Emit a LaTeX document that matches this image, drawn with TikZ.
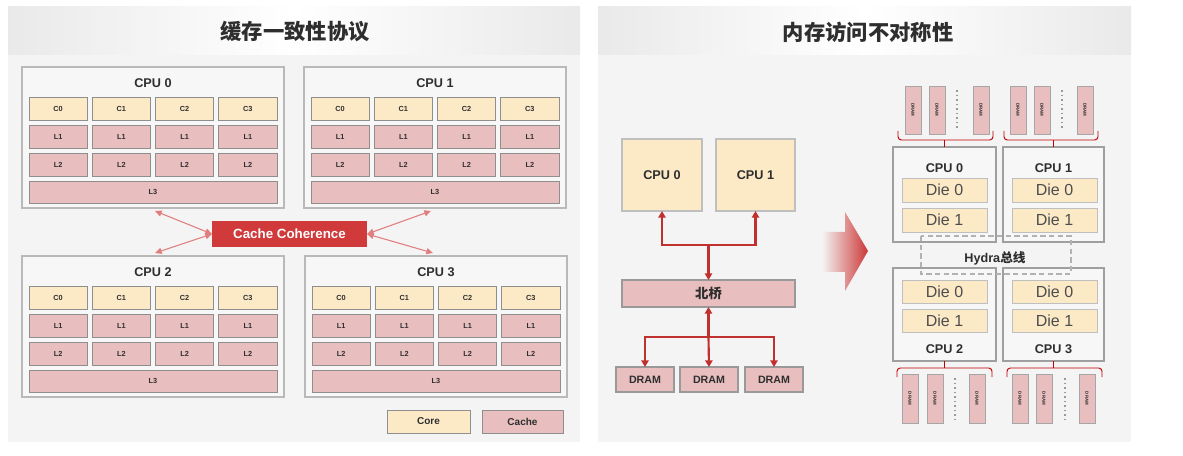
\documentclass[tikz,border=0pt]{standalone}
\usepackage{fontspec}
\setmainfont{Liberation Sans}
\newfontfamily\cjk{Noto Sans CJK SC}
\usetikzlibrary{arrows.meta}
\definecolor{core}{HTML}{FCE9C6}
\definecolor{cache}{HTML}{E9BEBF}
\definecolor{bord}{HTML}{8E8E8E}
\definecolor{panel}{HTML}{F4F4F4}
\definecolor{cpubg}{HTML}{F7F7F7}
\definecolor{ccred}{HTML}{D03A3A}
\definecolor{lightred}{HTML}{E27D7D}
\definecolor{darkred}{HTML}{C0302E}
\definecolor{arrred}{HTML}{CC3838}
\definecolor{txt}{HTML}{2E2E2E}
\newcommand{\bx}[7]{%
  \pgfmathsetmacro\myW{((#5)-(#3))*0.75}%
  \pgfmathsetmacro\myH{((#6)-(#4))*0.75}%
  \node[#2, minimum width=\myW pt, minimum height=\myH pt, inner sep=0pt, outer sep=0pt] (#1) at ({((#3)+(#5))/2},{((#4)+(#6))/2}) {#7};}
\newcommand{\cpublk}[4]{%
  \bx{#1}{cpubox}{#2}{#3}{#2+262}{#3+141}{}
  \node[cpulab] (#1lab) at (#2+131,#3+16) {#4};
  \foreach \i in {0,...,3}{
    \pgfmathsetmacro\cx{#2+7+\i*63.25}
    \bx{#1c\i}{corebox}{\cx}{#3+30}{\cx+58.25}{#3+53}{C\i}
    \bx{#1a\i}{cachebox}{\cx}{#3+58}{\cx+58.25}{#3+81}{L1}
    \bx{#1b\i}{cachebox}{\cx}{#3+86}{\cx+58.25}{#3+109}{L2}
  }
  \bx{#1l3}{cachebox}{#2+7}{#3+114}{#2+255}{#3+136}{L3}
}
\newcommand{\stick}[4]{\bx{#1}{stickbox}{#2}{#3}{#2+16}{#4}{\rotatebox{-90}{DRAM}}}
\tikzset{
  cpubox/.style={draw=gray!55, fill=cpubg, line width=0.9pt},
  corebox/.style={draw=bord, fill=core, line width=0.7pt, text=txt, font=\bfseries\fontsize{5.5}{6}\selectfont},
  cachebox/.style={draw=bord, fill=cache, line width=0.7pt, text=txt, font=\bfseries\fontsize{5.5}{6}\selectfont},
  cpulab/.style={text=txt, font=\bfseries\fontsize{9.5}{11}\selectfont},
  bigcore/.style={draw=gray!50, fill=core, line width=0.8pt, text=txt, font=\bfseries\fontsize{9.5}{11}\selectfont},
  bigcache/.style={draw=gray!80, fill=cache, line width=0.8pt, text=txt, font=\bfseries\fontsize{8}{9}\selectfont},
  diebox/.style={draw=gray!50, fill=core, line width=0.7pt, text=txt!85, font=\fontsize{12}{13}\selectfont},
  numabox/.style={draw=gray!75, fill=cpubg, line width=1pt},
  stickbox/.style={draw=gray!70, fill=cache, line width=0.6pt, text=txt, font=\bfseries\fontsize{3.3}{4}\selectfont},
  ra/.style={draw=darkred, line width=1.6pt, -{Triangle[length=5pt,width=5.5pt]}},
  cca/.style={draw=lightred, line width=0.8pt, {Triangle[length=5pt,width=4.5pt]}-{Triangle[length=5pt,width=4.5pt]}},
  brc/.style={draw=red!75!black, line width=0.7pt, rounded corners=2.5pt},
  dotsl/.style={draw=gray!80, line width=1.3pt, dash pattern=on 1.2pt off 2.2pt},
  header/.style={left color=gray!17, right color=gray!17, middle color=white, draw=none},
}
\begin{document}
\begin{tikzpicture}[x=0.75pt,y=-0.75pt]
\useasboundingbox (0,0) rectangle (1183,456);
\fill[white] (0,0) rectangle (1183,456);
% panels
\fill[panel] (8,55) rectangle (580,442);
\shade[header] (8,7) rectangle (580,55);
\fill[panel] (598,55) rectangle (1131,442);
\shade[header] (598,7) rectangle (1131,55);
\node[font=\cjk\bfseries\fontsize{16}{18}\selectfont, text=txt] (t1) at (295,32) {缓存一致性协议};
\node[font=\cjk\bfseries\fontsize{16}{18}\selectfont, text=txt] (t2) at (868,32) {内存访问不对称性};
% left CPU blocks
\cpublk{p0}{22}{67}{CPU 0}
\cpublk{p1}{304}{67}{CPU 1}
\cpublk{p2}{22}{256}{CPU 2}
\cpublk{p3}{305}{256}{CPU 3}
% cache coherence
\bx{cc}{fill=ccred, text=white, font=\bfseries\fontsize{10}{12}\selectfont}{212}{221}{367}{247}{Cache Coherence}
\coordinate (e1) at (155,211);
\coordinate (e2) at (155,253);
\coordinate (e3) at (431,211);
\coordinate (e4) at (433,253);
\draw[cca] (cc.west) -- (e1);
\draw[cca] (cc.west) -- (e2);
\draw[cca] (cc.east) -- (e3);
\draw[cca] (cc.east) -- (e4);
% legend
\bx{lgcore}{corebox, font=\bfseries\fontsize{7.5}{9}\selectfont}{387}{410}{470}{433}{Core}
\bx{lgcache}{cachebox, font=\bfseries\fontsize{7.5}{9}\selectfont}{482}{410}{563}{433}{Cache}
% right: north bridge diagram
\bx{rc0}{bigcore}{622}{139}{702}{211}{CPU 0}
\bx{rc1}{bigcore}{716}{139}{795}{211}{CPU 1}
\bx{nb}{bigcache, font=\cjk\bfseries\fontsize{10}{12}\selectfont}{622}{280}{795}{307}{北桥}
\bx{d1}{bigcache}{616}{367}{674}{392}{DRAM}
\bx{d2}{bigcache}{680}{367}{738}{392}{DRAM}
\bx{d3}{bigcache}{745}{367}{803}{392}{DRAM}
\coordinate (j1) at (708.5,245);
\coordinate (j2) at (708.5,337);
\draw[ra] (j1) -| (rc0.south);
\draw[ra] (j1) -| (rc1.south);
\draw[ra] (j1) -- (nb.north);
\draw[ra] (j2) -- (nb.south);
\draw[ra] (j2) -| (d1.north);
\draw[ra] (j2) -| (d3.north);
\draw[ra] (j2) -- (d2.north);
% big arrow
\shade[left color=panel, right color=arrred, draw=none] (822,232) -- (845,232) -- (845,212) -- (868,251) -- (845,291) -- (845,272) -- (822,272) -- cycle;
% NUMA
\bx{ca}{numabox}{893}{147}{996}{242}{}
\bx{cb}{numabox}{1003}{147}{1104}{242}{}
\bx{ccc}{numabox}{893}{268}{996}{361}{}
\bx{cd}{numabox}{1003}{268}{1104}{361}{}
\node[cpulab] (la) at (944.5,168) {CPU 0};
\node[cpulab] (lb) at (1053.5,168) {CPU 1};
\node[cpulab] (lc) at (944.5,349) {CPU 2};
\node[cpulab] (ld) at (1053.5,349) {CPU 3};
\bx{a0}{diebox}{902}{178}{987}{202}{Die 0}
\bx{a1}{diebox}{902}{208}{987}{232}{Die 1}
\bx{b0}{diebox}{1012}{178}{1097}{202}{Die 0}
\bx{b1}{diebox}{1012}{208}{1097}{232}{Die 1}
\bx{c0}{diebox}{902}{280}{987}{303}{Die 0}
\bx{c1}{diebox}{902}{309}{987}{332}{Die 1}
\bx{dd0}{diebox}{1012}{280}{1097}{303}{Die 0}
\bx{dd1}{diebox}{1012}{309}{1097}{332}{Die 1}
% hydra bus
\draw[gray!60, line width=0.9pt, dash pattern=on 4pt off 2.5pt] (921,236) rectangle (1071,274);
\node[cpulab] (hy) at (995,258) {Hydra{\cjk 总线}};
% sticks
\stick{sa1}{905}{86}{134}
\stick{sa2}{929}{86}{134}
\stick{sa3}{973}{86}{134}
\stick{sb1}{1010}{86}{134}
\stick{sb2}{1034}{86}{134}
\stick{sb3}{1077}{86}{134}
\stick{sc1}{902}{374}{423}
\stick{sc2}{927}{374}{423}
\stick{sc3}{969}{374}{423}
\stick{sd1}{1012}{374}{423}
\stick{sd2}{1036}{374}{423}
\stick{sd3}{1079}{374}{423}
\draw[dotsl] (957,90) -- (957,130);
\draw[dotsl] (1062,90) -- (1062,130);
\draw[dotsl] (955,378) -- (955,420);
\draw[dotsl] (1065,378) -- (1065,420);
% braces
\coordinate (ba) at (946,140);
\coordinate (bb) at (1051,140);
\coordinate (bc) at (944,368);
\coordinate (bd) at (1054,368);
\draw[brc] (898,131) -- (898,140) -- (993,140) -- (993,131);
\draw[brc] (1004,131) -- (1004,140) -- (1098,140) -- (1098,131);
\draw[brc] (897,377) -- (897,368) -- (992,368) -- (992,377);
\draw[brc] (1007,377) -- (1007,368) -- (1102,368) -- (1102,377);
\draw[brc] (ca.north) -- (ca.north |- ba);
\draw[brc] (cb.north) -- (cb.north |- bb);
\draw[brc] (ccc.south) -- (ccc.south |- bc);
\draw[brc] (cd.south) -- (cd.south |- bd);
\end{tikzpicture}
\end{document}
